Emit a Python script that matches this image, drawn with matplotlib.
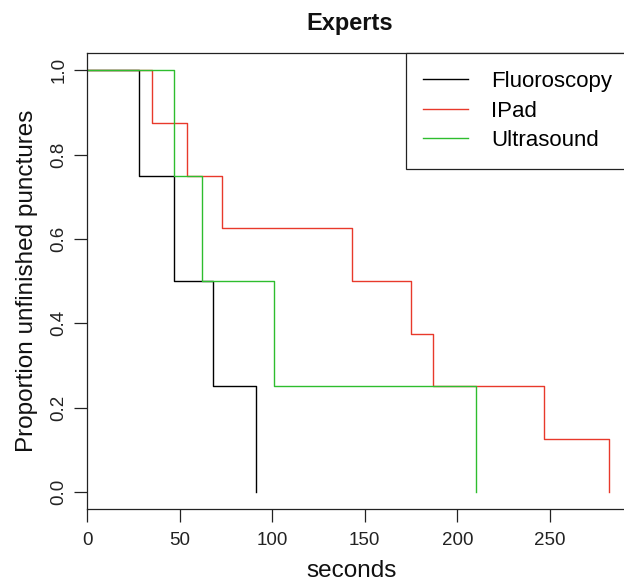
import matplotlib
matplotlib.use("Agg")
import matplotlib.pyplot as plt

plt.rcParams['font.family'] = ['Liberation Sans', 'DejaVu Sans']

# Kaplan-Meier style step data (seconds, proportion unfinished)
fluoro_t = [0, 28, 47, 68, 91]
fluoro_s = [1.0, 0.75, 0.5, 0.25, 0.0]
ipad_t = [0, 35, 54, 73, 143, 175, 187, 247, 282]
ipad_s = [1.0, 0.875, 0.75, 0.625, 0.5, 0.375, 0.25, 0.125, 0.0]
ultra_t = [0, 47, 62, 101, 210]
ultra_s = [1.0, 0.75, 0.5, 0.25, 0.0]

labels = ['Fluoroscopy', 'IPad', 'Ultrasound']
colors = ['black', '#E8392B', '#2EBD2E']
xticks = [0, 50, 100, 150, 200, 250]
yticks = [0.0, 0.2, 0.4, 0.6, 0.8, 1.0]

W, H = 624, 582
fig = plt.figure(figsize=(W / 100, H / 100), dpi=100)
# plot region in pixels: left 87.3, right 629.9 (past the edge), top 53.3, bottom 508.7
ax = fig.add_axes([87.3 / W, 1 - 508.7 / H, (629.9 - 87.3) / W, (508.7 - 53.3) / H])

for t, s, lab, col in zip([fluoro_t, ipad_t, ultra_t], [fluoro_s, ipad_s, ultra_s], labels, colors):
    ax.plot(t, s, drawstyle='steps-post', color=col, lw=1.0, label=lab)

ax.set_xlim(0, 293.3)
ax.set_ylim(-0.04, 1.04)
ax.set_xticks(xticks)
ax.set_xticklabels([str(v) for v in xticks])
ax.set_yticks(yticks)
ax.set_yticklabels(['%.1f' % v for v in yticks])
ax.tick_params(axis='both', direction='out', length=9.5, width=0.9, labelsize=13.5, colors='#222222')
ax.tick_params(axis='x', pad=7.5)
ax.tick_params(axis='y', pad=5, labelrotation=90)
for lab in ax.get_yticklabels():
    lab.set_va('center')
for sp in ax.spines.values():
    sp.set_linewidth(0.9)
    sp.set_color('#222222')

fig.text(350 / W, 1 - 30 / H, 'Experts', ha='center', va='baseline',
         fontsize=17, fontweight='bold', color='#111111')
fig.text(352 / W, 1 - 577.3 / H, 'seconds', ha='center', va='baseline',
         fontsize=17.5, color='#111111')
fig.text(33.3 / W, 1 - 281 / H, 'Proportion unfinished punctures', ha='center', va='baseline',
         rotation=90, rotation_mode='anchor', fontsize=17.5, color='#111111')

leg = ax.legend(loc='upper right', borderaxespad=0, fancybox=False, framealpha=1,
                edgecolor='#222222', fontsize=16, handlelength=2.0, handletextpad=1.05,
                borderpad=0.8, labelspacing=0.38)
leg.get_frame().set_linewidth(0.9)

fig.savefig('out.png', dpi=100)
